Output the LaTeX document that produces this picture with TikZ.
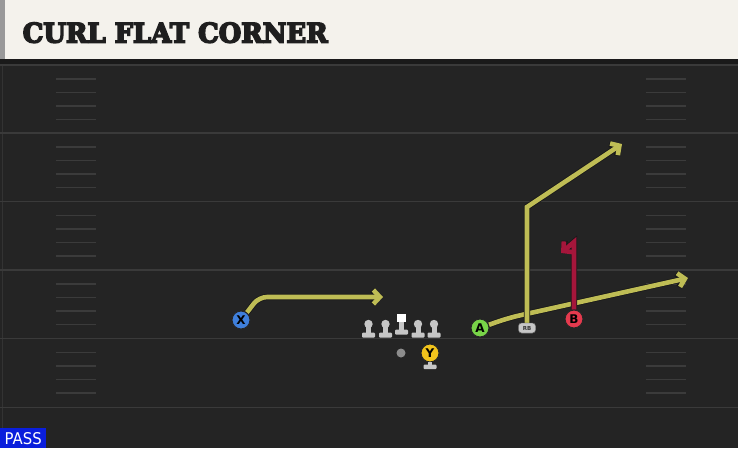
\documentclass[tikz,border=0pt]{standalone}
\usepackage{fontspec}
\setmainfont{DejaVu Serif}
\newfontfamily\labelfont{DejaVu Sans}
\usetikzlibrary{arrows.meta}
\definecolor{field}{HTML}{242424}
\definecolor{header}{HTML}{F4F2EC}
\definecolor{band}{HTML}{1A1A1A}
\definecolor{yard}{HTML}{3A3A3A}
\definecolor{hashc}{HTML}{3B3B3B}
\definecolor{routey}{HTML}{BFBD55}
\definecolor{router}{HTML}{A5163B}
\definecolor{pblue}{HTML}{3F7FDB}
\definecolor{pgreen}{HTML}{78D448}
\definecolor{pred}{HTML}{E53A4E}
\definecolor{pyellow}{HTML}{F2C41C}
\definecolor{lineman}{HTML}{C6C6C6}
\definecolor{passblue}{HTML}{0A1EDC}
\definecolor{titlec}{HTML}{1E1E1E}
\newcommand{\heavytext}[1]{\special{pdf:literal direct 2 Tr 0.6 w 0.12 0.12 0.12 RG}#1\special{pdf:literal direct 0 Tr}}
\begin{document}
\begin{tikzpicture}[x=1pt,y=-1pt,
  route/.style={line width=4.6pt, line cap=butt, line join=miter,
    -{Straight Barb[length=6.5pt,width=14pt]},
    preaction={draw=black!90, line width=6.2pt}},
  player/.style={circle, draw=black!85, line width=1pt, minimum size=18pt,
    inner sep=0pt, font=\labelfont\bfseries\fontsize{12}{12}\selectfont},
  rbstyle/.style={draw=black!70, fill=lineman, rounded corners=3pt, minimum width=17pt,
    minimum height=10pt, inner sep=0pt, text=black!80,
    font=\labelfont\bfseries\fontsize{5.5}{5.5}\selectfont},
  yardline/.style={draw=yard, line width=1.6pt},
  hashmark/.style={draw=hashc, line width=1.4pt},
  man/.style={fill=lineman}
]
\useasboundingbox (0,0) rectangle (738,448);
% backgrounds
\fill[field] (0,0) rectangle (738,448);
\fill[header] (0,0) rectangle (738,59);
\fill[black!40] (0,0) rectangle (5,59);
\fill[band] (0,59) rectangle (738,64);
\draw[draw=black!80!white, line width=0.8pt] (2,64) -- (2,448);
% yard lines
\foreach \yy in {65,133,201.5,270,338.5,407.5}
  \draw[yardline] (0,\yy) -- (738,\yy);
% hash marks
\foreach \bb in {65,133,201.5,270,338.5}
  \foreach \oo in {14,27.5,41,54.5} {
    \draw[hashmark] (56,{\bb+\oo}) -- (96,{\bb+\oo});
    \draw[hashmark] (646,{\bb+\oo}) -- (686,{\bb+\oo});
  }
% title
\node[anchor=base west, inner sep=0pt, text=titlec] (title) at (22.5,42.5)
  {\heavytext{\resizebox{305pt}{20pt}{\bfseries CURL FLAT CORNER}}};
% players (nodes first for naming)
\node[player, fill=pblue] (X) at (241,320) {X};
\node[player, fill=pgreen] (A) at (480,328) {A};
\node[player, fill=pred] (B) at (574,319) {B};
\node[player, fill=pyellow] (Y) at (430,353) {Y};
\node[rbstyle] (RB) at (527,328) {RB};
\node[circle, fill=black!45, minimum size=9pt, inner sep=0pt] (QB) at (401,353) {};
% route end points
\coordinate (xe) at (383,297);
\coordinate (ae) at (688,278);
\coordinate (rbe) at (622,144);
\coordinate (be) at (561,253);
% routes
\draw[route, draw=routey, rounded corners=8pt] (X) -- (259,297) -- (xe);
\draw[route, draw=routey, rounded corners=12pt] (A) -- (508,318) -- (ae);
\draw[route, draw=routey] (RB) -- (527,207) -- (rbe);
\draw[route, draw=router] (B) -- (574,242) -- (be);
% redraw players on top
\node[player, fill=pblue] at (X) {X};
\node[player, fill=pgreen] at (A) {A};
\node[player, fill=pred] at (B) {B};
\node[player, fill=pyellow] at (Y) {Y};
\node[rbstyle] at (RB) {RB};
% Y stand
\fill[man] (428,362) rectangle (432,365);
\fill[man, rounded corners=1pt] (423.5,364.5) rectangle (436.5,369);
% linemen
\foreach \xx in {368.5,385.5,418,434} {
  \fill[man] (\xx,324) circle (4.2pt);
  \fill[man] ({\xx-2.5},324) rectangle ({\xx+2.5},333);
  \fill[man, rounded corners=1pt] ({\xx-6.5},332.5) rectangle ({\xx+6.5},337.5);
}
% center
\fill[white] (396.5,313.5) rectangle (406,322);
\fill[man] (398.8,322) rectangle (403.8,330);
\fill[man, rounded corners=1pt] (395,329.5) rectangle (408,334.5);
% pass label
\node[fill=passblue, anchor=north west, minimum width=46pt, minimum height=20pt,
  inner sep=0pt, text=white] (pass) at (0,428)
  {\resizebox{37pt}{12pt}{\labelfont PASS}};
\end{tikzpicture}
\end{document}
